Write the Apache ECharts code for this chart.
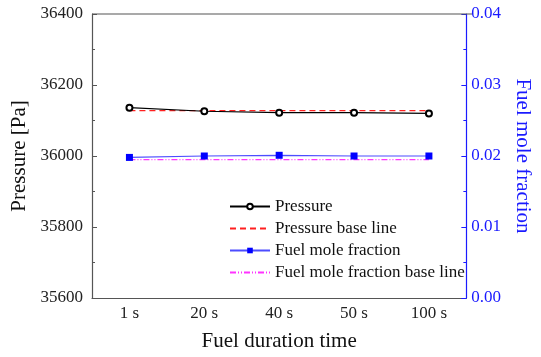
<!DOCTYPE html>
<html><head><meta charset="utf-8">
<script src="https://cdn.jsdelivr.net/npm/echarts@6/dist/echarts.min.js"></script>
<style>html,body{margin:0;padding:0;background:#fff}#c{width:541px;height:357px}</style>
</head><body><div id="c"></div>
<script>
const categories = ['1 s', '20 s', '40 s', '50 s', '100 s'];
const pressure = [36136, 36126, 36122, 36122, 36120];
const pressureBase = [36128, 36128, 36128, 36128, 36128];
const fuelFraction = [0.0198, 0.0200, 0.0201, 0.0200, 0.0200];
const fuelBase = [0.0195, 0.0195, 0.0195, 0.0195, 0.0195];

const F = '"Liberation Serif", "Times New Roman", serif';
const grey = '#555';
const blue = '#1a1aff';
const chart = echarts.init(document.getElementById('c'));
chart.setOption({
  animation: false,
  backgroundColor: '#fff',
  grid: { left: 92, right: 69, top: 14, bottom: 55 },
  legend: {
    orient: 'vertical', left: 224, top: 193, itemGap: 5,
    itemWidth: 40, itemHeight: 7,
    textStyle: { fontFamily: F, fontSize: 17, color: '#111' },
    data: [
      { name: 'Pressure' },
      { name: 'Pressure base line', itemStyle: { opacity: 0 } },
      { name: 'Fuel mole fraction' },
      { name: 'Fuel mole fraction base line', itemStyle: { opacity: 0 } }
    ]
  },
  xAxis: {
    type: 'category', data: categories, boundaryGap: true,
    name: 'Fuel duration time', nameLocation: 'middle', nameGap: 33,
    nameTextStyle: { fontFamily: F, fontSize: 21, color: '#111' },
    axisLine: { lineStyle: { color: grey, width: 1.2 } },
    axisTick: { inside: true, alignWithLabel: true, length: 6, lineStyle: { color: grey } },
    axisLabel: { fontFamily: F, fontSize: 17, color: '#222', margin: 7 }
  },
  yAxis: [{
    type: 'value', min: 35600, max: 36400, interval: 200, position: 'left',
    name: 'Pressure [Pa]', nameLocation: 'middle', nameGap: 58,
    nameTextStyle: { fontFamily: F, fontSize: 21, color: '#111' },
    axisLine: { show: true, lineStyle: { color: grey, width: 1.2 } },
    axisTick: { show: true, inside: true, length: 5, lineStyle: { color: grey } },
    minorTick: { show: true, splitNumber: 2, length: 3, lineStyle: { color: grey } },
    splitLine: { show: false },
    axisLabel: { fontFamily: F, fontSize: 17, color: '#222', margin: 9,
      formatter: v => String(v) }
  }, {
    type: 'value', min: 0, max: 0.04, interval: 0.01, position: 'right',
    name: 'Fuel mole fraction', nameLocation: 'middle', nameGap: 43, nameRotate: -90,
    nameTextStyle: { fontFamily: F, fontSize: 21, color: blue },
    axisLine: { show: true, lineStyle: { color: blue, width: 1.2 } },
    axisTick: { show: true, inside: true, length: 5, lineStyle: { color: blue } },
    minorTick: { show: true, splitNumber: 2, length: 3, lineStyle: { color: blue } },
    splitLine: { show: false },
    axisLabel: { fontFamily: F, fontSize: 17, color: blue, margin: 5,
      formatter: v => v.toFixed(2) }
  }],
  graphic: [{
    type: 'line', shape: { x1: 92, y1: 14, x2: 472, y2: 14 },
    style: { stroke: grey, lineWidth: 1.2 }, z: 10
  }],
  series: [{
    name: 'Pressure', type: 'line', yAxisIndex: 0, data: pressure,
    symbol: 'emptyCircle', symbolSize: 6, z: 5,
    lineStyle: { color: '#000', width: 1.2 },
    itemStyle: { color: '#000', borderColor: '#000', borderWidth: 1 }
  }, {
    name: 'Pressure base line', type: 'line', yAxisIndex: 0, data: pressureBase,
    symbol: 'none', z: 4,
    lineStyle: { color: '#ff2020', width: 1.2, type: [6, 4] },
    itemStyle: { color: '#ff2020' }
  }, {
    name: 'Fuel mole fraction', type: 'line', yAxisIndex: 1, data: fuelFraction,
    symbol: 'rect', symbolSize: 7, z: 5,
    lineStyle: { color: '#4d4dff', width: 1.2 },
    itemStyle: { color: '#0000ff' }
  }, {
    name: 'Fuel mole fraction base line', type: 'line', yAxisIndex: 1, data: fuelBase,
    symbol: 'none', z: 4,
    lineStyle: { color: '#ff33ff', width: 1.2, type: [6, 2, 1, 2, 1, 2] },
    itemStyle: { color: '#ff33ff' }
  }]
});
</script></body></html>
